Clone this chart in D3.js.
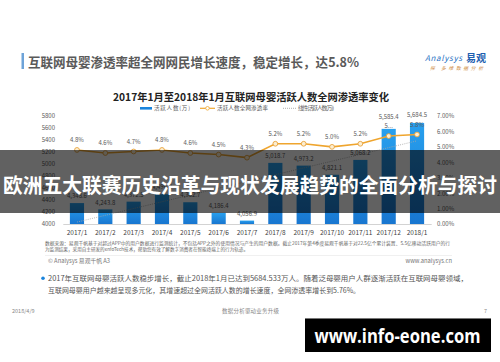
<!DOCTYPE html>
<html><head><meta charset="utf-8">
<script src="https://cdn.jsdelivr.net/npm/d3@7"></script>
<style>
html,body{margin:0;padding:0;background:#fff;}
svg{display:block;font-family:"Noto Sans CJK SC","Noto Sans",sans-serif;}
</style></head>
<body>
<svg id="c" width="500" height="362"></svg>
<script>
const months = ["2017/1","2017/2","2017/3","2017/4","2017/5","2017/6","2017/7","2017/8","2017/9","2017/10","2017/11","2017/12","2018/1"];
const activeUsers = [4348.6, 4243.8, 4372.5, 4496.0, 4362.7, 4186.4, 4056.9, 5018.7, 4973.2, 4821.1, 5068.2, 5585.4, 5684.5];
const penetration = [4.8, 4.6, 4.7, 4.8, 4.6, 4.5, 4.3, 5.2, 5.2, 5.0, 5.2, 5.7, 5.8];
const penetrationLabels = ["4.8%","4.6%","4.7%","4.8%","4.6%","4.5%","4.3%","5.2%","5.2%","5.0%","5.2%","5...","5.8%"];
const leftTicks = [4000,4200,4400,4600,4800,5000,5200,5400,5600,5800];
const rightTicks = [0,1,2,3,4,5,6,7];

const svg = d3.select("#c");
const defs = svg.append("defs");
const grad = defs.append("linearGradient").attr("id","barg").attr("x1",0).attr("y1",0).attr("x2",0).attr("y2",1);
grad.append("stop").attr("offset","0%").attr("stop-color","#28a0ee");
grad.append("stop").attr("offset","100%").attr("stop-color","#1876d0");

// page title
svg.append("rect").attr("x",21.5).attr("y",53).attr("width",2.5).attr("height",16).attr("fill","#6ea3d8");
svg.append("text").attr("x",28).attr("y",66.5).attr("font-size",13).attr("font-weight","bold")
  .attr("fill","#5a5a5a").attr("textLength",331).attr("lengthAdjust","spacingAndGlyphs")
  .text("互联网母婴渗透率超全网网民增长速度，稳定增长，达5.8%");

// logo
svg.append("text").attr("x",425).attr("y",61).attr("font-size",8).attr("font-style","italic")
  .attr("fill","#2a73c4").attr("textLength",37).text("Analysys");
svg.append("text").attr("x",466).attr("y",62).attr("font-size",10).attr("font-weight","bold")
  .attr("fill","#1f5fb0").text("易观");
svg.append("text").attr("x",430).attr("y",69.5).attr("font-size",4.8).attr("font-style","italic")
  .attr("fill","#d0904a").attr("textLength",53).text("探 多维数据分析");

// chart title
svg.append("text").attr("x",251).attr("y",101).attr("text-anchor","middle").attr("font-size",10.5)
  .attr("font-weight","bold").attr("fill","#222").attr("textLength",276).attr("lengthAdjust","spacingAndGlyphs")
  .text("2017年1月至2018年1月互联网母婴活跃人数全网渗透率变化");

// legend
const lg = svg.append("g").attr("font-size",5.5).attr("fill","#595959");
lg.append("rect").attr("x",140).attr("y",107).attr("width",12).attr("height",2.6).attr("fill","#1a84dc");
lg.append("text").attr("x",154).attr("y",110.3).attr("textLength",36).text("活跃人数(万)");
lg.append("line").attr("x1",200).attr("x2",215).attr("y1",108.3).attr("y2",108.3).attr("stroke","#f0a830").attr("stroke-width",1.2);
lg.append("circle").attr("cx",207.5).attr("cy",108.3).attr("r",1.8).attr("fill","#fff").attr("stroke","#f0a830").attr("stroke-width",0.8);
lg.append("text").attr("x",217).attr("y",110.3).attr("textLength",51).text("活跃人数全网渗透率");
lg.append("line").attr("x1",283).attr("x2",296).attr("y1",108.3).attr("y2",108.3).attr("stroke","#999").attr("stroke-width",0.8).attr("stroke-dasharray","1,1");
lg.append("text").attr("x",298).attr("y",110.3).attr("textLength",36).text("线性 (活跃人数(万))");

// scales
const x = d3.scaleBand().domain(months).range([62.8,431.2]).paddingInner(0.5).paddingOuter(0.25);
const yL = d3.scaleLinear().domain([4000,5800]).range([224,116]);
const yR = d3.scaleLinear().domain([0,7]).range([224,116]);

// axes
const ax = svg.append("g").attr("transform","translate(0,224)")
  .call(d3.axisBottom(x).tickSize(0).tickPadding(6.5));
ax.select(".domain").attr("stroke","#c8c8c8").attr("stroke-width",0.8);
ax.selectAll("text").attr("font-size",6.5).attr("fill","#404040").attr("font-family","Noto Sans CJK SC");

const al = svg.append("g").attr("transform","translate(58,0)")
  .call(d3.axisLeft(yL).tickValues(leftTicks).tickSize(0).tickPadding(3).tickFormat(d3.format("d")));
al.select(".domain").remove();
al.selectAll("text").attr("font-size",6).attr("fill","#595959").attr("font-family","Noto Sans CJK SC");

const ar = svg.append("g").attr("transform","translate(434,0)")
  .call(d3.axisRight(yR).tickValues(rightTicks).tickSize(0).tickPadding(3).tickFormat(d=>d3.format(".2f")(d)+"%"));
ar.select(".domain").remove();
ar.selectAll("text").attr("font-size",6).attr("fill","#595959").attr("font-family","Noto Sans CJK SC");

// bars
svg.append("g").selectAll("rect").data(activeUsers).join("rect")
  .attr("x",(d,i)=>x(months[i])).attr("width",x.bandwidth())
  .attr("y",d=>yL(d)).attr("height",d=>yL(4000)-yL(d)).attr("fill","url(#barg)");

// linear trend (least squares of bar values)
const n = activeUsers.length, mx = (n-1)/2, my = d3.mean(activeUsers);
let sxy=0,sxx=0; activeUsers.forEach((v,i)=>{sxy+=(i-mx)*(v-my);sxx+=(i-mx)*(i-mx);});
const slope = sxy/sxx, icpt = my - slope*mx;
svg.append("line")
  .attr("x1",x(months[0])+x.bandwidth()/2).attr("y1",yL(icpt))
  .attr("x2",x(months[n-1])+x.bandwidth()/2).attr("y2",yL(icpt+slope*(n-1)))
  .attr("stroke","#a6a6a6").attr("stroke-width",0.8).attr("stroke-dasharray","1,1.2");

// penetration line
const cx = i => x(months[i])+x.bandwidth()/2;
svg.append("path").datum(penetration)
  .attr("d",d3.line().x((d,i)=>cx(i)).y(d=>yR(d)))
  .attr("fill","none").attr("stroke","#efa52e").attr("stroke-width",1.6);
svg.append("g").selectAll("circle").data(penetration).join("circle")
  .attr("cx",(d,i)=>cx(i)).attr("cy",d=>yR(d)).attr("r",2.4)
  .attr("fill","#fbeed2").attr("stroke","#e9a33c").attr("stroke-width",0.9);

// labels
const pctY = penetration.map(d=>yR(d)-7.8);
svg.append("g").selectAll("text").data(penetrationLabels).join("text")
  .attr("x",(d,i)=>cx(i)).attr("y",(d,i)=>pctY[i]).attr("text-anchor","middle")
  .attr("font-size",6).attr("fill","#595959").text(d=>d);
const fmt = d3.format(",.1f");
const valY = activeUsers.map((d,i)=>{
  const y0 = yL(d)-4.8;
  return Math.abs(y0-pctY[i]) < 9 ? Math.min(y0, pctY[i]-9.5) : y0;
});
svg.append("g").selectAll("text").data(activeUsers).join("text")
  .attr("x",(d,i)=>cx(i)).attr("y",(d,i)=>valY[i]).attr("text-anchor","middle")
  .attr("font-size",6).attr("fill","#595959").text(d=>fmt(d));

// source notes
const notes = svg.append("g").attr("font-size",4.8).attr("fill","#666");
notes.append("text").attr("x",45).attr("y",245).attr("textLength",405).attr("lengthAdjust","spacingAndGlyphs")
  .text("数据来源：易观千帆基于对超过APP中的用户数据进行监测统计，不包括APP之外的使用情况与产生的用户数据。截止2017年第4季度易观千帆基于对22.5亿个累计装置、5.5亿移动活跃用户的行");
notes.append("text").attr("x",45).attr("y",250.5).attr("textLength",203).attr("lengthAdjust","spacingAndGlyphs")
  .text("为监测结果，采用自主研发的enfoTech技术，帮助您有效了解数字消费者在智能终端上的行为轨迹。");
svg.append("line").attr("x1",45).attr("x2",452).attr("y1",255.5).attr("y2",255.5).attr("stroke","#e6e6e6").attr("stroke-width",0.6);
svg.append("text").attr("x",48).attr("y",263).attr("font-size",5.8).attr("fill","#777").text("© Analysys 易观千帆 A3");
svg.append("text").attr("x",452).attr("y",263).attr("text-anchor","end").attr("font-size",5.8).attr("fill","#777").text("www.analysys.cn");

// bullet paragraph
svg.append("circle").attr("cx",43).attr("cy",278.3).attr("r",1.8).attr("fill","#1a84dc");
const para = svg.append("g").attr("font-size",7.3).attr("fill","#555");
para.append("text").attr("x",48).attr("y",280.8).attr("textLength",420).attr("lengthAdjust","spacingAndGlyphs")
  .text("2017年互联网母婴活跃人数稳步增长，截止2018年1月已达到5684.533万人。随着泛母婴用户人群逐渐活跃在互联网母婴领域，");
para.append("text").attr("x",48).attr("y",293).attr("textLength",312).attr("lengthAdjust","spacingAndGlyphs")
  .text("互联网母婴用户越来越呈现多元化，其增速超过全网活跃人数的增长速度，全网渗透率增长到5.76%。");

// footer
const ft = svg.append("g").attr("font-size",5.5).attr("fill","#888");
ft.append("text").attr("x",12).attr("y",313).text("2018/4/9");
ft.append("text").attr("x",222).attr("y",313).attr("textLength",57).text("数据分析驱动业务升级");
ft.append("text").attr("x",484).attr("y",313).text("7");

// overlay band with title
svg.append("rect").attr("x",0).attr("y",150).attr("width",500).attr("height",63).attr("fill","rgba(0,0,0,0.62)");
svg.append("text").attr("x",250).attr("y",193).attr("text-anchor","middle").attr("font-size",20.5)
  .attr("font-weight","bold").attr("fill","#fff").attr("textLength",494).attr("lengthAdjust","spacingAndGlyphs")
  .text("欧洲五大联赛历史沿革与现状发展趋势的全面分析与探讨");

// watermark box
svg.append("rect").attr("x",305).attr("y",318).attr("width",186).attr("height",34).attr("fill","#000");
svg.append("line").attr("x1",305).attr("x2",491).attr("y1",318.5).attr("y2",318.5).attr("stroke","#777").attr("stroke-width",1);
svg.append("text").attr("x",397.5).attr("y",343).attr("text-anchor","middle").attr("font-size",19)
  .attr("font-weight","bold").attr("fill","#fff").attr("font-family","'Open Sans','DejaVu Sans',sans-serif")
  .attr("textLength",166).attr("lengthAdjust","spacingAndGlyphs").text("www.info-eone.com");
</script>
</body></html>
